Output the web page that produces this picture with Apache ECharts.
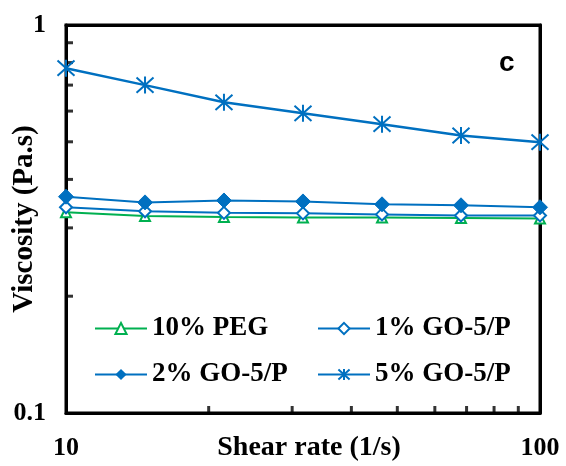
<!DOCTYPE html>
<html>
<head>
<meta charset="utf-8">
<script src="https://cdn.jsdelivr.net/npm/echarts@6/dist/echarts.min.js"></script>
<style>
  html, body { margin: 0; padding: 0; background: #fff; }
  #main { width: 566px; height: 466px; }
</style>
</head>
<body>
<div id="main"></div>
<script>
// shear rate (1/s)
var shear_rate = [10, 14.68, 21.54, 31.62, 46.42, 68.13, 100];
// viscosity (Pa.s)
var peg_10 = [0.329, 0.322, 0.320, 0.319, 0.319, 0.318, 0.317];
var go_1 = [0.339, 0.331, 0.328, 0.327, 0.325, 0.323, 0.323];
var go_2 = [0.361, 0.349, 0.353, 0.351, 0.345, 0.343, 0.339];
var go_5 = [0.774, 0.700, 0.632, 0.592, 0.555, 0.519, 0.499];
// minor ticks on the log axes
var x_minor_ticks = [20, 30, 40, 50, 60, 70, 80, 90];
var y_minor_ticks = [0.2, 0.3, 0.4, 0.5, 0.6, 0.7, 0.8, 0.9];

var blue = '#0070c0';
var green = '#00b050';
var serif = 'Liberation Serif';
var asterisk = 'path://M10,0L10,20M1,1L19,19M1,19L19,1';

function pairs(ys){
	var out = [];
	for(var i = 0; i < shear_rate.length; i++){
		out.push([shear_rate[i], ys[i]]);
	}
	return out;
}

var chart = echarts.init(document.getElementById('main'), null, {renderer: 'canvas'});
var option = {
	animation: false,
	title: {
		text: 'c',
		left: 494,
		top: 44,
		textStyle: {fontFamily: 'Liberation Sans', fontWeight: 'bold', fontSize: 28, color: '#000'}
	},
	grid: {
		left: 66,
		right: 26,
		top: 25,
		bottom: 53,
		outerBoundsMode: 'none',
		containLabel: false,
		show: true,
		borderColor: '#000',
		borderWidth: 3
	},
	legend: [{
		data: ['10% PEG', '2% GO-5/P'],
		orient: 'vertical',
		left: 89,
		top: 310,
		itemWidth: 52,
		itemHeight: 14,
		itemGap: 19,
		textStyle: {fontFamily: serif, fontWeight: 'bold', fontSize: 27, lineHeight: 26, color: '#000'}
	}, {
		data: ['1% GO-5/P', '5% GO-5/P'],
		orient: 'vertical',
		left: 312,
		top: 310,
		itemWidth: 52,
		itemHeight: 14,
		itemGap: 19,
		textStyle: {fontFamily: serif, fontWeight: 'bold', fontSize: 27, lineHeight: 26, color: '#000'}
	}],
	xAxis: [{
		type: 'log',
		logBase: 10,
		min: 10,
		max: 100,
		name: 'Shear rate (1/s)',
		nameLocation: 'middle',
		nameGap: 21,
		nameMoveOverlap: false,
		nameTextStyle: {fontFamily: serif, fontWeight: 'bold', fontSize: 28, color: '#000', verticalAlign: 'top', padding: [0, 0, 0, 12]},
		axisLine: {lineStyle: {color: '#000', width: 3}},
		axisTick: {show: false},
		splitLine: {show: false},
		axisLabel: {margin: 22, fontFamily: serif, fontWeight: 'bold', fontSize: 26, color: '#000'}
	}, {
		type: 'log',
		position: 'top',
		min: 10,
		max: 100,
		axisLine: {lineStyle: {color: '#000', width: 3}},
		axisTick: {show: false},
		axisLabel: {show: false},
		splitLine: {show: false}
	}],
	yAxis: [{
		type: 'log',
		logBase: 10,
		min: 0.1,
		max: 1,
		name: 'Viscosity (Pa.s)',
		nameLocation: 'middle',
		nameGap: 27,
		nameMoveOverlap: false,
		nameTextStyle: {fontFamily: serif, fontWeight: 'bold', fontSize: 29, color: '#000'},
		axisLine: {lineStyle: {color: '#000', width: 3}},
		axisTick: {show: false},
		splitLine: {show: false},
		axisLabel: {margin: 20, fontFamily: serif, fontWeight: 'bold', fontSize: 26, color: '#000'}
	}, {
		type: 'log',
		position: 'right',
		min: 0.1,
		max: 1,
		axisLine: {lineStyle: {color: '#000', width: 3}},
		axisTick: {show: false},
		axisLabel: {show: false},
		splitLine: {show: false}
	}],
	series: [
		{
			name: 'x_ticks',
			type: 'scatter',
			silent: true,
			clip: false,
			symbol: 'rect',
			symbolSize: [3, 7],
			symbolOffset: [0, -3.5],
			itemStyle: {color: '#000'},
			data: x_minor_ticks.map(function(v){ return [v, 0.1]; })
		},
		{
			name: 'y_ticks',
			type: 'scatter',
			silent: true,
			clip: false,
			symbol: 'rect',
			symbolSize: [7, 3],
			symbolOffset: [3.5, 0],
			itemStyle: {color: '#000'},
			data: y_minor_ticks.map(function(v){ return [10, v]; })
		},
		{
			name: '10% PEG',
			type: 'line',
			symbol: 'triangle',
			symbolSize: 10,
			lineStyle: {color: green, width: 2},
			itemStyle: {color: '#fff', borderColor: green, borderWidth: 2},
			data: pairs(peg_10)
		},
		{
			name: '1% GO-5/P',
			type: 'line',
			symbol: 'diamond',
			symbolSize: 12,
			lineStyle: {color: blue, width: 2},
			itemStyle: {color: '#fff', borderColor: blue, borderWidth: 2},
			data: pairs(go_1)
		},
		{
			name: '2% GO-5/P',
			type: 'line',
			symbol: 'diamond',
			symbolSize: 15,
			lineStyle: {color: blue, width: 2},
			itemStyle: {color: blue, borderColor: blue},
			data: pairs(go_2)
		},
		{
			name: '5% GO-5/P',
			type: 'line',
			symbol: asterisk,
			symbolSize: 17,
			lineStyle: {color: blue, width: 2.5},
			itemStyle: {color: 'none', borderColor: blue, borderWidth: 2},
			data: pairs(go_5)
		}
	]
};
chart.setOption(option);
</script>
</body>
</html>
